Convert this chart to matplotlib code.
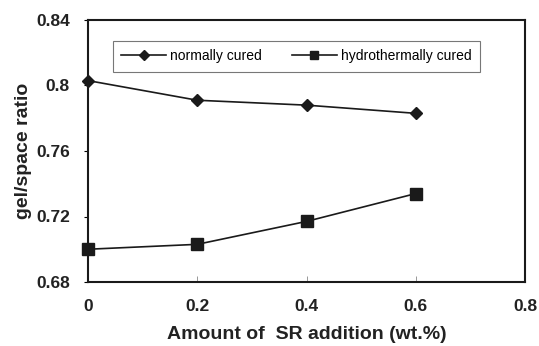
import numpy as np
import matplotlib
matplotlib.use('Agg')
import matplotlib.pyplot as plt

plt.rcParams['font.family'] = ['Liberation Sans', 'DejaVu Sans']

# data
sr_amount = [0, 0.2, 0.4, 0.6]
normally_cured = [0.803, 0.791, 0.788, 0.783]
hydro_cured = [0.700, 0.703, 0.717, 0.734]

x_ticks = [0, 0.2, 0.4, 0.6, 0.8]
y_ticks = [0.68, 0.72, 0.76, 0.8, 0.84]
y_tick_labels = ['0.68', '0.72', '0.76', '0.8', '0.84']

fig = plt.figure(figsize=(5.39, 3.46), dpi=100)
ax = fig.add_axes([88/539, 1 - 282/346, (525 - 88)/539, (282 - 20)/346])

ax.plot(sr_amount, normally_cured, color='#1a1a1a', lw=1.2, marker='D',
        markersize=6, label='normally cured', clip_on=False, zorder=5)
ax.plot(sr_amount, hydro_cured, color='#1a1a1a', lw=1.2, marker='s',
        markersize=8, label='hydrothermally cured', clip_on=False, zorder=5)

ax.set_xlim(0, 0.8)
ax.set_ylim(0.68, 0.84)
ax.set_xticks(x_ticks)
ax.set_xticklabels(['0', '0.2', '0.4', '0.6', '0.8'])
ax.set_yticks(y_ticks)
ax.set_yticklabels(y_tick_labels)

for s in ax.spines.values():
    s.set_linewidth(1.5)
    s.set_color('#1a1a1a')

ax.tick_params(axis='x', direction='in', length=4, width=0.6, color='#888888',
               pad=12, labelsize=12.5)
ax.tick_params(axis='y', direction='out', length=3, width=0.8, pad=10, labelsize=12.5)
for lbl in ax.get_xticklabels() + ax.get_yticklabels():
    lbl.set_fontweight('bold')
    lbl.set_color('#222222')

ax.set_xlabel('Amount of  SR addition (wt.%)', fontsize=14, fontweight='bold',
              labelpad=9, color='#222222')
ax.set_ylabel('gel/space ratio', fontsize=14, fontweight='bold', labelpad=3,
              color='#222222')

leg = ax.legend(loc='upper left', bbox_to_anchor=(25/437, 1 - 21/262),
                ncol=2, fontsize=10, frameon=True, fancybox=False,
                edgecolor='#555555', handlelength=3.2, columnspacing=2.2,
                borderpad=0.6, borderaxespad=0, handletextpad=0.3,
                markerscale=0.8)
leg.get_frame().set_linewidth(0.8)

plt.savefig('out.png', dpi=100)
plt.close()
